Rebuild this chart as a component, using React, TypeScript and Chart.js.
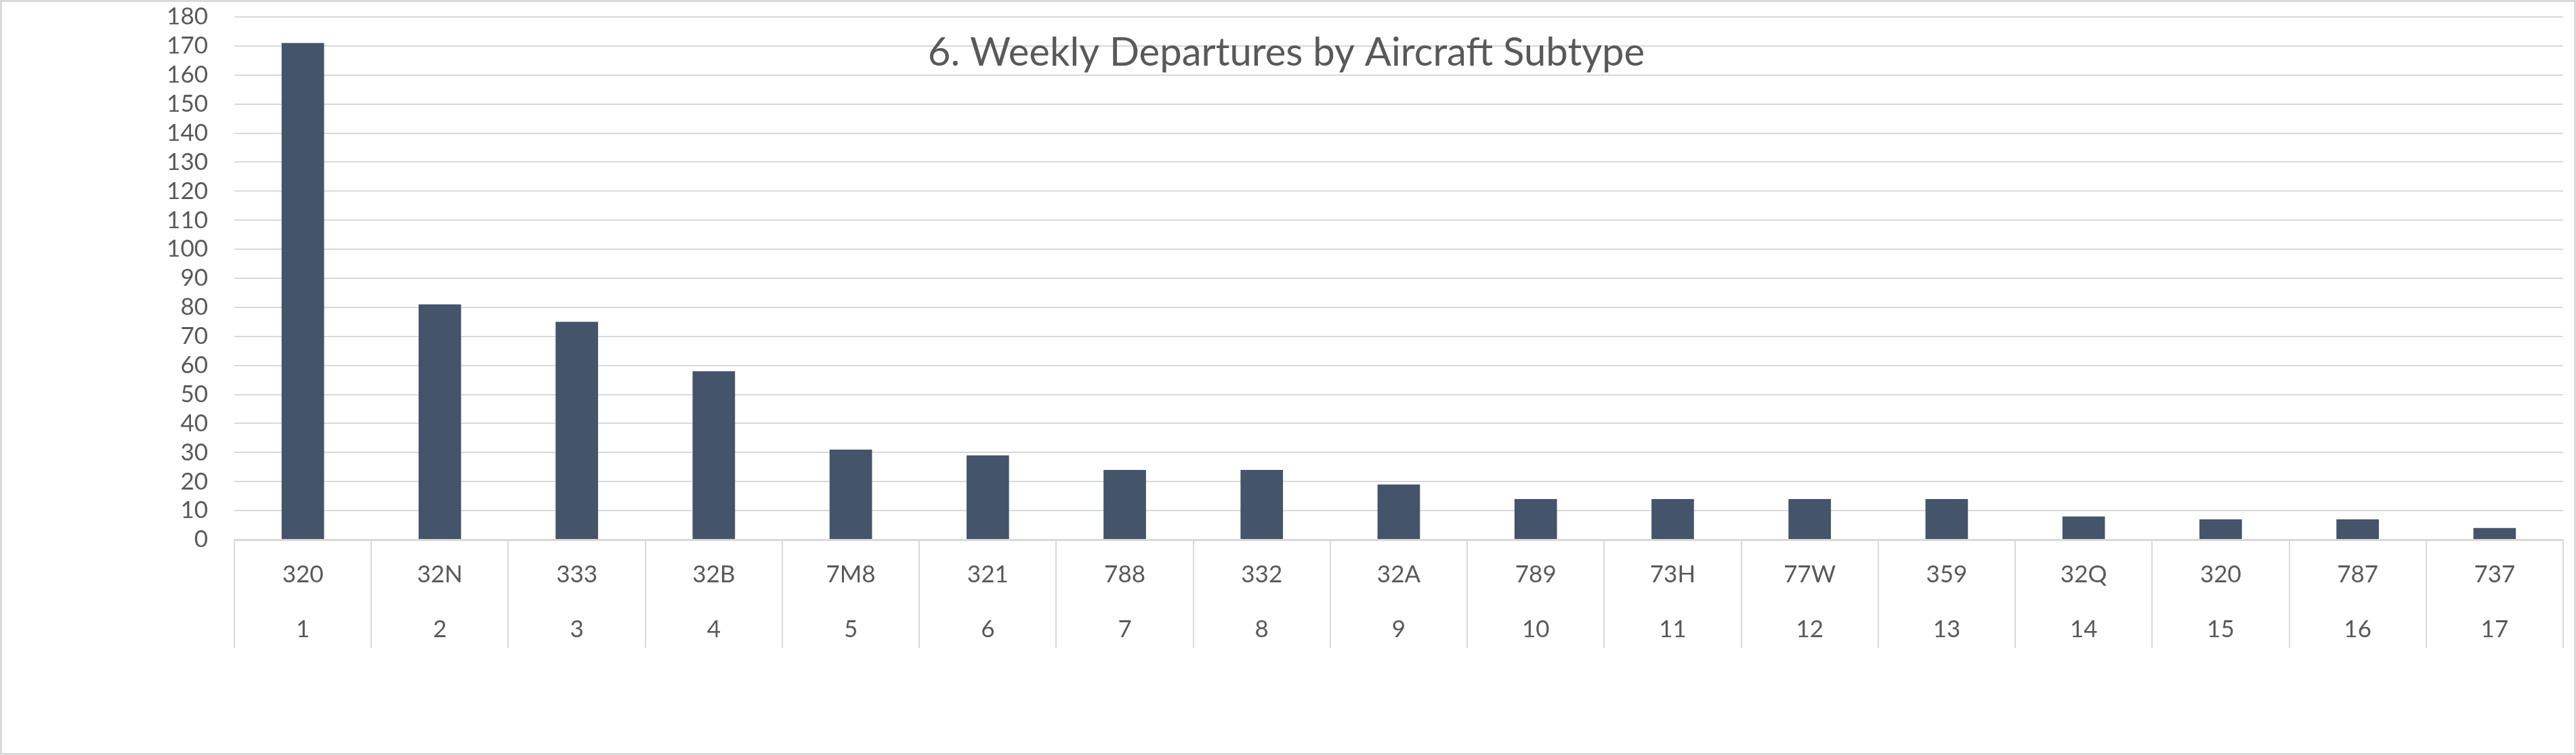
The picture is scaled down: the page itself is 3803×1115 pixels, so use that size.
import React, { useEffect, useRef } from "react";
import { Chart, registerables } from "chart.js";

Chart.register(...registerables);

// ---- Data ----
const subtypes = ["320", "32N", "333", "32B", "7M8", "321", "788", "332", "32A", "789", "73H", "77W", "359", "32Q", "320", "787", "737"];
const ranks = ["1", "2", "3", "4", "5", "6", "7", "8", "9", "10", "11", "12", "13", "14", "15", "16", "17"];
const departures = [171, 81, 75, 58, 31, 29, 24, 24, 19, 14, 14, 14, 14, 8, 7, 7, 4];
const yMin = 0;
const yMax = 180;
const yStep = 10;
const chartTitle = "6. Weekly Departures by Aircraft Subtype";

const W = 3803;
const H = 1115;
const FONT = "Lato, 'Open Sans', 'DejaVu Sans', sans-serif";
const TEXT = "#595959";
const GRID = "#d9d9d9";
const BAR = "#44546a";

const framePlugin = {
  id: "frame",
  beforeDraw(chart: any) {
    const ctx = chart.ctx;
    ctx.save();
    ctx.fillStyle = "#ffffff";
    ctx.fillRect(0, 0, chart.width, chart.height);
    ctx.strokeStyle = GRID;
    ctx.lineWidth = 3;
    ctx.strokeRect(1.5, 1.5, chart.width - 3, chart.height - 3);
    ctx.restore();
  },
  afterDraw(chart: any) {
    const ctx = chart.ctx;
    ctx.save();
    ctx.fillStyle = TEXT;
    ctx.font = `58px ${FONT}`;
    ctx.textAlign = "center";
    ctx.textBaseline = "alphabetic";
    ctx.fillText(chartTitle, 1899, 97);
    ctx.restore();
  },
};

export default function App() {
  const ref = useRef<HTMLCanvasElement>(null);

  useEffect(() => {
    if (!ref.current) return;
    const labels = subtypes.map((s, i) => [s, ranks[i]]);
    const chart = new Chart(ref.current, {
      type: "bar",
      data: {
        labels,
        datasets: [
          {
            label: "Weekly Departures",
            data: departures,
            backgroundColor: BAR,
            borderWidth: 0,
            categoryPercentage: 1,
            barPercentage: 0.31,
          },
        ],
      },
      options: {
        animation: false,
        responsive: false,
        devicePixelRatio: 1,
        layout: { padding: { top: 25, right: 19, left: 0, bottom: 0 } },
        plugins: {
          legend: { display: false },
          title: { display: false },
          tooltip: { enabled: false },
        },
        scales: {
          x: {
            offset: true,
            grid: {
              offset: true,
              drawOnChartArea: false,
              drawTicks: true,
              tickLength: 160,
              color: GRID,
              lineWidth: 2,
            },
            border: { display: true, color: GRID, width: 3 },
            ticks: {
              autoSkip: false,
              maxRotation: 0,
              minRotation: 0,
              color: TEXT,
              padding: -148.5,
              font: { family: FONT, size: 35, lineHeight: 81 / 35 },
            },
            afterFit(scale: any) {
              scale.height = H - 797;
              scale.paddingLeft = 0;
              scale.paddingRight = 0;
            },
          },
          y: {
            min: yMin,
            max: yMax,
            grid: { color: GRID, lineWidth: 2, drawTicks: false },
            border: { display: false },
            ticks: {
              stepSize: yStep,
              autoSkip: false,
              color: TEXT,
              padding: 39,
              font: { family: FONT, size: 35 },
            },
            afterFit(scale: any) {
              scale.width = 346;
              scale.paddingTop = 0;
              scale.paddingBottom = 0;
            },
          },
        },
      },
      plugins: [framePlugin],
    });
    return () => chart.destroy();
  }, []);

  return (
    <div style={{ position: "fixed", left: 0, top: 0, width: W, height: H }}>
      <canvas ref={ref} width={W} height={H} style={{ width: W, height: H, display: "block" }} />
    </div>
  );
}
